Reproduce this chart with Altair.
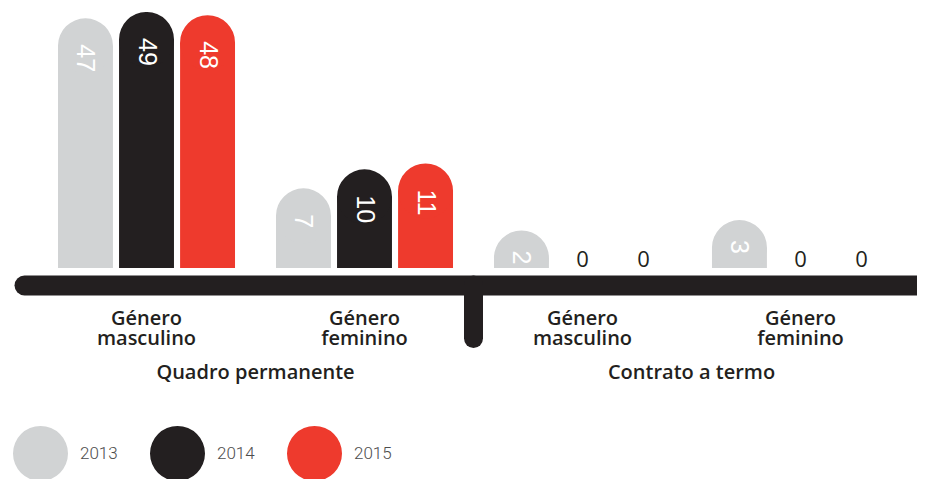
import altair as alt
import pandas as pd

groups = ["Quadro permanente", "Quadro permanente", "Contrato a termo", "Contrato a termo"]
genders = ["Género masculino", "Género feminino", "Género masculino", "Género feminino"]
years = ["2013", "2014", "2015"]
v2013 = [47, 7, 2, 3]
v2014 = [49, 10, 0, 0]
v2015 = [48, 11, 0, 0]
colors = ["#d1d3d4", "#231f20", "#ee3a2d"]
group_titles = ["Quadro permanente", "Contrato a termo"]

keys = [g + "|" + s for g, s in zip(groups, genders)]
rows = []
for yr, vals in zip(years, [v2013, v2014, v2015]):
    for k, v in zip(keys, vals):
        rows.append({"key": k, "year": yr, "value": v})
df = pd.DataFrame(rows)

DARK = "#231f20"
FONT = "Open Sans"

xaxis = alt.Axis(
    title=None, ticks=False, domainColor=DARK, domainWidth=20, domainCap="round",
    offset=17, labelPadding=23, labelFont=FONT, labelFontSize=20, labelFontWeight=600,
    labelColor=DARK, labelLineHeight=20, labelAngle=0,
    labelExpr="split(split(datum.value, '|')[1], ' ')",
)
xscale = alt.Scale(domain=keys, range=[0, 899], paddingInner=0.188, paddingOuter=0.156)
xenc = alt.X("key:N", scale=xscale, axis=xaxis)
xo = alt.XOffset("year:N", scale=alt.Scale(domain=years, paddingInner=0.1, paddingOuter=0))
yscale = alt.Scale(type="pow", exponent=0.6, domain=[0, 49])
yenc = alt.Y("value:Q", scale=yscale, stack=None, axis=None)
color = alt.Color(
    "year:N", scale=alt.Scale(domain=years, range=colors),
    legend=alt.Legend(
        title=None, orient="none", legendX=-11, legendY=414, direction="horizontal",
        symbolType="circle", symbolSize=3025, symbolStrokeWidth=0, symbolOpacity=1,
        labelFont="Roboto", labelFontSize=17, labelFontWeight=300, labelColor="#4d4d4d",
        labelOffset=12, columnPadding=32, padding=0,
    ),
)

base = alt.Chart(df).encode(x=xenc, xOffset=xo, y=yenc)
pos = base.transform_filter("datum.value > 0")
bars = pos.mark_bar(yOffset=27.5, clip=True).encode(color=color)
caps = pos.mark_circle(yOffset=27.5, clip=True, size=3025, opacity=1).encode(color=color)

lab_big = base.transform_filter("datum.value >= 5").mark_text(
    angle=90, align="left", baseline="middle", yOffset=26, color="white",
    fontSize=25, font="Liberation Sans"
).encode(text="value:Q")
lab_small = base.transform_filter("datum.value > 0 && datum.value < 5").mark_text(
    angle=90, align="left", baseline="middle", yOffset=20, color="white",
    fontSize=25, font="Liberation Sans"
).encode(text="value:Q")
lab_zero = base.transform_filter("datum.value == 0").mark_text(
    align="center", baseline="alphabetic", yOffset=-1, color=DARK,
    fontSize=22, font=FONT
).encode(text="value:Q")

gdf = pd.DataFrame({"key": [keys[0], keys[2]], "title": group_titles})
glabels = alt.Chart(gdf).mark_text(
    dx=109, baseline="alphabetic", align="center", color=DARK,
    fontSize=20, fontWeight=600, font=FONT
).encode(x=xenc, y=alt.value(367), text="title:N")

divider = alt.Chart(pd.DataFrame({"a": [0]})).mark_rule(
    strokeWidth=19, strokeCap="round", color=DARK
).encode(x=alt.value(449.5), y=alt.value(273), y2=alt.value(326.5))

chart = alt.layer(divider, bars, caps, lab_big, lab_small, lab_zero, glabels).properties(
    width=885, height=256,
    padding={"left": 16, "top": 4, "right": 8, "bottom": 211},
    autosize=alt.AutoSizeParams(type="none"),
).configure_view(stroke=None)

chart.save("out.html", embed_options={"renderer": "svg", "actions": False})
